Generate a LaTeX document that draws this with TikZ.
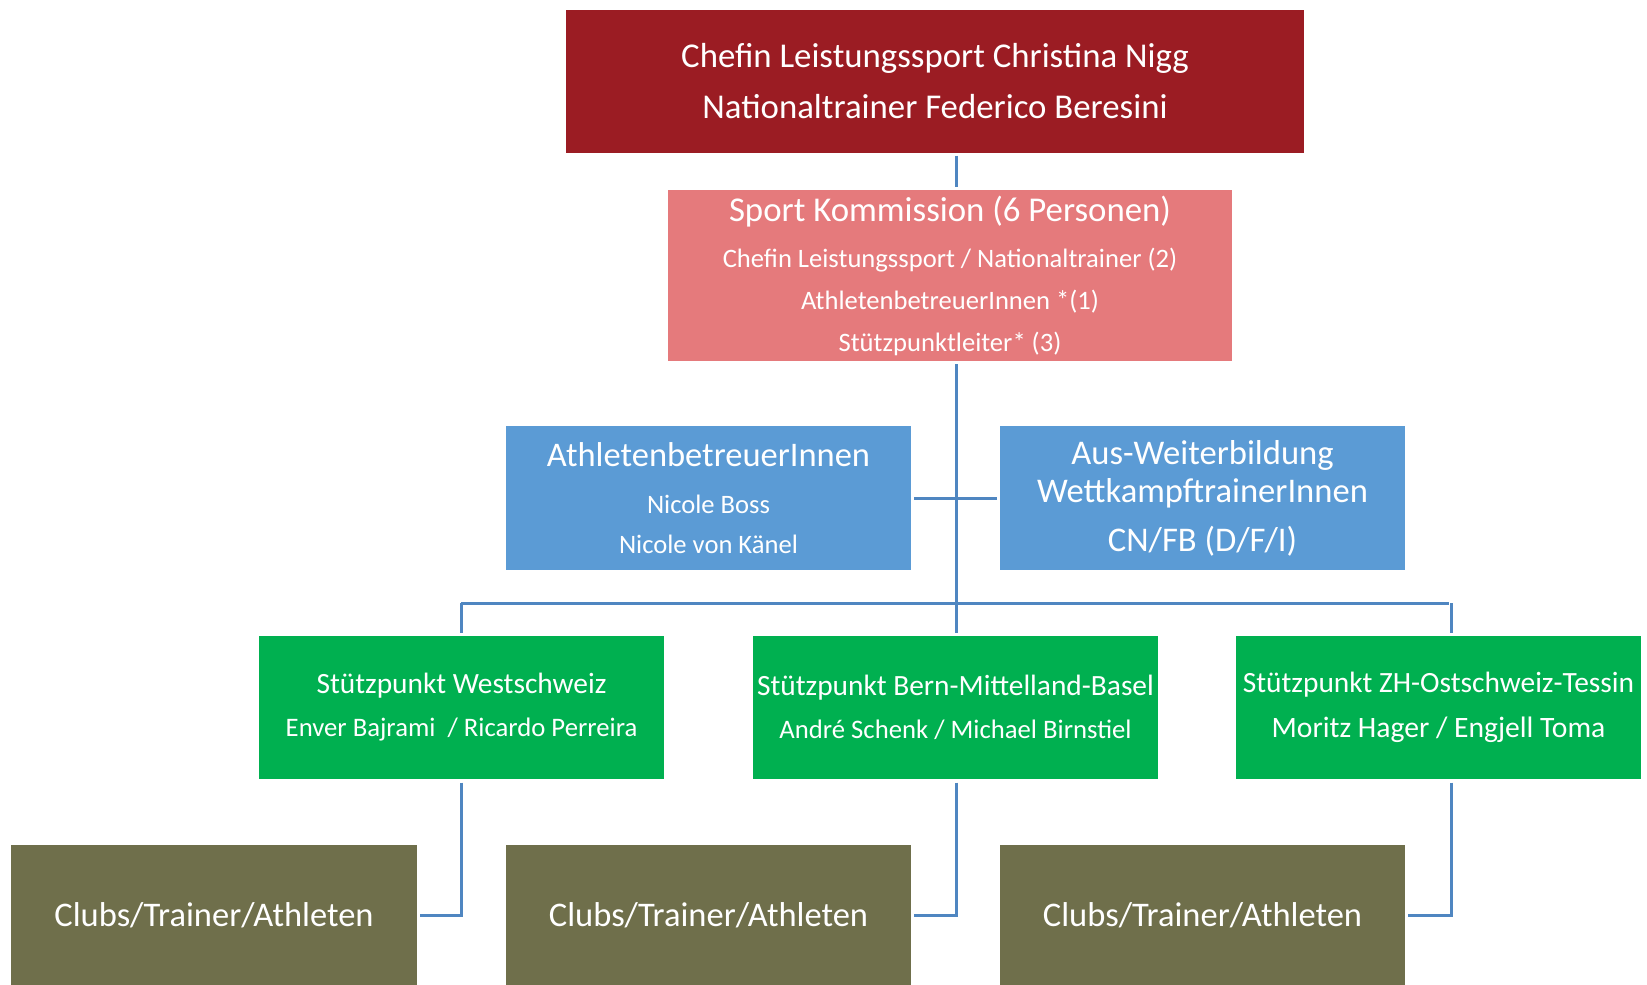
\documentclass[tikz,border=0pt]{standalone}
\usepackage{fontspec}
\setmainfont{Carlito}
\definecolor{topred}{HTML}{9B1C23}
\definecolor{sportpink}{HTML}{E57A7C}
\definecolor{bluebox}{HTML}{5B9BD5}
\definecolor{greenbox}{HTML}{00B050}
\definecolor{olivebox}{HTML}{6F6F4B}
\definecolor{conn}{HTML}{4F86C1}
\tikzset{
  box/.style={rectangle, inner sep=0pt, anchor=center, text=white, align=center, draw=none},
  link/.style={draw=conn, line width=3pt},
}
\begin{document}
\begin{tikzpicture}[x=1pt,y=-1pt]
\useasboundingbox (0,0) rectangle (1647,985);
\fill[white] (0,0) rectangle (1647,985);
% top
\node[box, fill=topred, minimum width=738pt, minimum height=143pt,
  font=\fontsize{34.8}{51.5}\selectfont] (top) at (935,81)
  {Chefin Leistungssport Christina Nigg\\Nationaltrainer Federico Beresini};
% sport
\node[box, fill=sportpink, minimum width=564pt, minimum height=171pt,
  font=\fontsize{26.6}{42}\selectfont] (sport) at (950,275.5)
  {{\fontsize{34.8}{40}\selectfont Sport Kommission (6 Personen)}\\[4pt]
   Chefin Leistungssport / Nationaltrainer (2)\\
   AthletenbetreuerInnen *(1)\\
   Stützpunktleiter* (3)};
% blue
\node[box, fill=bluebox, minimum width=405pt, minimum height=144pt,
  font=\fontsize{26.6}{40}\selectfont] (blueL) at (708.5,498)
  {{\fontsize{34.5}{40}\selectfont AthletenbetreuerInnen}\\[7pt]
   Nicole Boss\\
   Nicole von Känel};
\node[box, fill=bluebox, minimum width=405pt, minimum height=144pt,
  font=\fontsize{34.6}{38}\selectfont] (blueR) at (1202.5,498)
  {Aus-Weiterbildung\\WettkampftrainerInnen\\[11pt]CN/FB (D/F/I)};
% green
\node[box, fill=greenbox, minimum width=405pt, minimum height=143pt,
  font=\fontsize{26.7}{43}\selectfont] (gL) at (461.5,707)
  {{\fontsize{29.4}{34}\selectfont Stützpunkt Westschweiz}\\
   Enver Bajrami~~/ Ricardo Perreira};
\node[box, fill=greenbox, minimum width=405pt, minimum height=143pt,
  font=\fontsize{26.7}{43}\selectfont] (gM) at (955.5,707)
  {{\fontsize{29.4}{34}\selectfont Stützpunkt Bern-Mittelland-Basel}\\
   André Schenk / Michael Birnstiel};
\node[box, fill=greenbox, minimum width=405pt, minimum height=143pt,
  font=\fontsize{29.6}{45}\selectfont] (gR) at (1438.5,707)
  {{\fontsize{29.4}{34}\selectfont Stützpunkt ZH-Ostschweiz-Tessin}\\
   Moritz Hager / Engjell Toma};
% olive
\node[box, fill=olivebox, minimum width=405.5pt, minimum height=140pt,
  font=\fontsize{34.5}{40}\selectfont] (oL) at (214,915) {Clubs/Trainer/Athleten};
\node[box, fill=olivebox, minimum width=405pt, minimum height=140pt,
  font=\fontsize{34.5}{40}\selectfont] (oM) at (708.5,915) {Clubs/Trainer/Athleten};
\node[box, fill=olivebox, minimum width=405pt, minimum height=140pt,
  font=\fontsize{34.5}{40}\selectfont] (oR) at (1202.5,915) {Clubs/Trainer/Athleten};
% coordinates
\coordinate (spine) at (956,0);
\coordinate (busL) at (461,603);
\coordinate (busR) at (1451,603);
\coordinate (busM) at (956,603);
% connectors
\draw[link, shorten <=3pt, shorten >=3pt] (top.south -| spine) -- (sport.north -| spine);
\draw[link, shorten <=3pt, shorten >=2pt] (sport.south -| spine) -- (gM.north -| spine);
\draw[link, shorten <=3pt, shorten >=3pt] (blueL.east) -- (blueL.east -| blueR.west);
\draw[link, shorten >=2pt] (busL) -- (busR);
\draw[link, shorten >=2pt] (busL) -- (busL |- gL.north);
\draw[link, shorten >=2pt] (busR) -- (busR |- gR.north);
\draw[link, shorten <=4pt, shorten >=3pt] (gL.south -| busL) |- (oL.east);
\draw[link, shorten <=4pt, shorten >=3pt] (gM.south -| busM) |- (oM.east);
\draw[link, shorten <=4pt, shorten >=3pt] (gR.south -| busR) |- (oR.east);
\end{tikzpicture}
\end{document}
